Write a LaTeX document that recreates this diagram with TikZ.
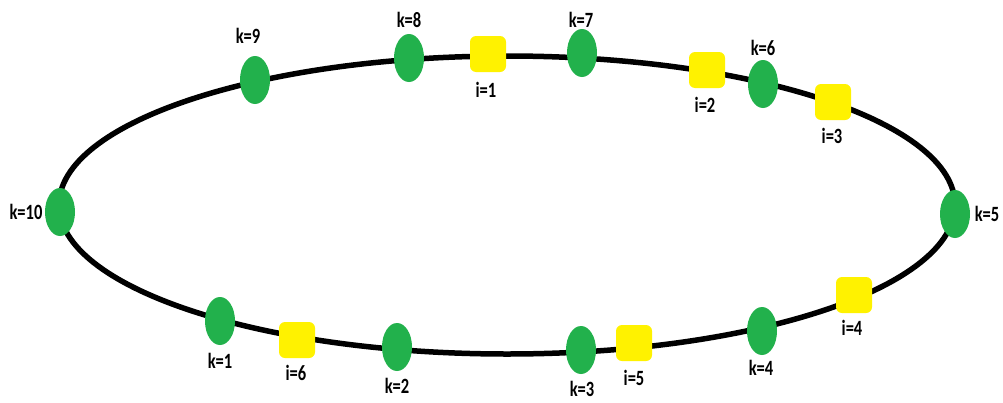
\documentclass[tikz,border=0pt]{standalone}
\usepackage{fontspec}
\setmainfont{Carlito}
\usetikzlibrary{shapes.geometric}
\definecolor{dotgreen}{RGB}{34,177,76}
\definecolor{boxyellow}{RGB}{255,242,0}
\tikzset{
  kdot/.style={ellipse, fill=dotgreen, minimum width=30pt, minimum height=48pt, inner sep=0pt},
  ibox/.style={rectangle, rounded corners=6pt, fill=boxyellow, minimum width=36pt, minimum height=36pt, inner sep=0pt},
  tag/.style={inner sep=0pt, font=\fontsize{16.5}{16.5}\selectfont\bfseries}
}
\newcommand{\tall}[1]{\scalebox{1}[1.32]{#1}}
\begin{document}
\begin{tikzpicture}[x=1pt,y=-1pt]
\useasboundingbox (0,0) rectangle (1003,402);
\fill[white] (0,0) rectangle (1003,402);
% the ring
\draw[line width=5.5pt] (507,205) ellipse [x radius=448, y radius=149];
% k positions (green)
\node[kdot] (k10) at (60,212) {};
\node[kdot] (k9) at (255,80) {};
\node[kdot] (k8) at (409,58) {};
\node[kdot] (k7) at (582,53) {};
\node[kdot] (k6) at (763,84) {};
\node[kdot] (k5) at (955,214) {};
\node[kdot] (k4) at (762,331) {};
\node[kdot] (k3) at (581,350) {};
\node[kdot] (k2) at (397,347) {};
\node[kdot] (k1) at (220,321) {};
% i positions (yellow)
\node[ibox] (i1) at (488,54) {};
\node[ibox] (i2) at (707,70) {};
\node[ibox] (i3) at (833,102) {};
\node[ibox] (i4) at (854,295) {};
\node[ibox] (i5) at (634,343) {};
\node[ibox] (i6) at (297,340) {};
% labels
\node[tag] (tk10) at (26,212) {\tall{k=10}};
\node[tag] (tk9) at (248,36) {\tall{k=9}};
\node[tag] (tk8) at (409,20) {\tall{k=8}};
\node[tag] (tk7) at (581,20) {\tall{k=7}};
\node[tag] (tk6) at (763,48) {\tall{k=6}};
\node[tag] (tk5) at (987,214) {\tall{k=5}};
\node[tag] (tk4) at (761,368) {\tall{k=4}};
\node[tag] (tk3) at (582,389) {\tall{k=3}};
\node[tag] (tk2) at (397,386) {\tall{k=2}};
\node[tag] (tk1) at (220,361) {\tall{k=1}};
\node[tag] (ti1) at (486,90) {\tall{i=1}};
\node[tag] (ti2) at (705,105) {\tall{i=2}};
\node[tag] (ti3) at (832,136) {\tall{i=3}};
\node[tag] (ti4) at (852,328) {\tall{i=4}};
\node[tag] (ti5) at (634,378) {\tall{i=5}};
\node[tag] (ti6) at (296,373) {\tall{i=6}};
\end{tikzpicture}
\end{document}
